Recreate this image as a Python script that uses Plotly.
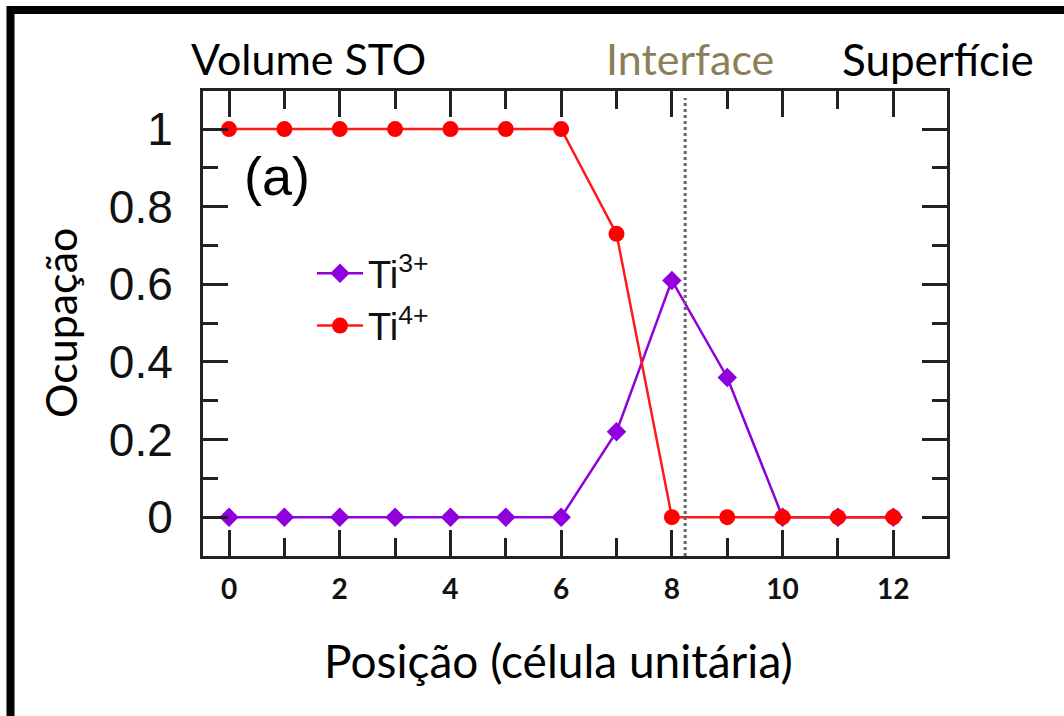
import plotly.graph_objects as go

positions = [0, 1, 2, 3, 4, 5, 6, 7, 8, 9, 10, 11, 12]
ti3 = [0, 0, 0, 0, 0, 0, 0, 0.22, 0.61, 0.36, 0, 0, 0]
ti4 = [1, 1, 1, 1, 1, 1, 1, 0.73, 0, 0, 0, 0, 0]
interface_x = 8.24

x_ticks = [0, 2, 4, 6, 8, 10, 12]
y_ticks = [0, 0.2, 0.4, 0.6, 0.8, 1]
y_ticklabels = ["0", "0.2", "0.4", "0.6", "0.8", "1"]

W, H = 1064, 716
L, R, T, B = 203, 947, 91, 556

def px(xp):
    return (xp - L) / (R - L)

def py(yp):
    return (B - yp) / (B - T)

fig = go.Figure()
fig.add_trace(go.Scatter(
    x=positions, y=ti3, mode="lines+markers", name="Ti<sup>3+</sup>",
    line=dict(color="#8f00dd", width=2.5),
    marker=dict(symbol="diamond", size=15, color="#8f00dd"),
))
fig.add_trace(go.Scatter(
    x=positions, y=ti4, mode="lines+markers", name="Ti<sup>4+</sup>",
    line=dict(color="#ff1a1a", width=2.5),
    marker=dict(symbol="circle", size=16, color="#ff0000"),
))

axis_common = dict(
    showgrid=False, zeroline=False, showline=True, linecolor="#222", linewidth=3,
    mirror="allticks", ticks="inside", tickcolor="#222", tickwidth=3,
)

fig.update_xaxes(
    range=[-0.47, 12.97], tickvals=x_ticks, ticklen=26,
    minor=dict(dtick=1, ticks="inside", ticklen=18, tickcolor="#222", tickwidth=3, showgrid=False),
    tickfont=dict(family="Lato", size=28, color="#111", weight="bold"),
    ticklabelstandoff=6,
    **axis_common,
)
fig.update_yaxes(
    range=[-0.1, 1.098], tickvals=y_ticks, ticktext=y_ticklabels, ticklen=25,
    minor=dict(dtick=0.1, ticks="inside", ticklen=15, tickcolor="#222", tickwidth=3, showgrid=False),
    tickfont=dict(family="Liberation Sans", size=46, color="#111"),
    ticklabelstandoff=18,
    **axis_common,
)

shapes = [
    dict(type="line", xref="x", yref="paper", x0=interface_x, x1=interface_x, y0=0, y1=0.985,
         line=dict(color="#666", width=3, dash="dot")),
    dict(type="path", xref="paper", yref="paper",
         path=f"M {px(10.5)},{py(720)} L {px(10.5)},{py(10)} L {px(1070)},{py(10)}",
         line=dict(color="black", width=8)),
]

annotations = [
    dict(text="Volume STO", x=px(308), y=py(59), font=dict(family="Lato", size=43, color="black")),
    dict(text="Interface", x=px(690), y=py(59), font=dict(family="Lato", size=43, color="#8c7f58")),
    dict(text="Superfície", x=px(938), y=py(59), font=dict(family="Lato", size=44, color="black")),
    dict(text="(a)", x=px(277), y=py(176), font=dict(family="Liberation Sans", size=54, color="black")),
    dict(text="Posição (célula unitária)", x=px(558), y=py(660), font=dict(family="Lato", size=46, color="black")),
    dict(text="Ocupação", x=px(60), y=py(323), textangle=-90, font=dict(family="Lato", size=43, color="black")),
]
for a in annotations:
    a.update(xref="paper", yref="paper", showarrow=False, xanchor="center", yanchor="middle")

fig.update_layout(
    width=W, height=H,
    margin=dict(l=L, r=W - R, t=T, b=H - B),
    paper_bgcolor="white", plot_bgcolor="white",
    showlegend=True,
    legend=dict(x=px(312), y=py(242), xanchor="left", yanchor="top",
                bgcolor="rgba(0,0,0,0)", itemwidth=46,
                font=dict(family="Liberation Sans", size=38, color="#111"),
                tracegroupgap=0),
    shapes=shapes, annotations=annotations,
)

fig.write_html("out.html")
